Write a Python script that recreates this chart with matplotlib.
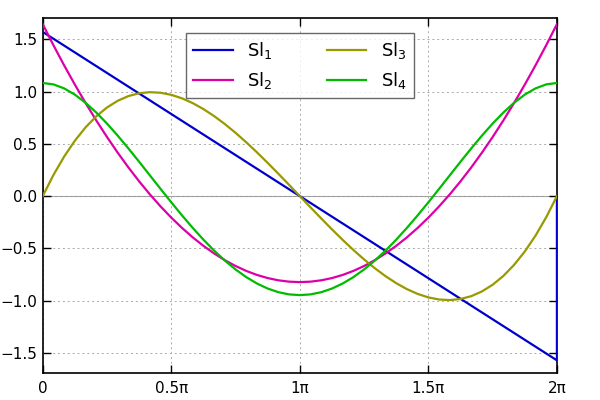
import numpy as np
import matplotlib
matplotlib.use("Agg")
import matplotlib.pyplot as plt

PI = np.pi
# sample positions in units of pi (k/24, k = 0..48)
t = [k / 24 for k in range(49)]

sl1_t = [0, 0, 2, 2]
sl1 = [0.0, 1.5708, -1.5708, 0.0]

sl2_half = [1.6449, 1.4436, 1.2508, 1.0666, 0.8910, 0.7239, 0.5654, 0.4155, 0.2742,
            0.1414, 0.0171, -0.0985, -0.2056, -0.3041, -0.3941, -0.4755, -0.5483,
            -0.6126, -0.6683, -0.7154, -0.7539, -0.7839, -0.8053, -0.8182, -0.8225]
sl3_half = [0.0, 0.2020, 0.3783, 0.5299, 0.6579, 0.7635, 0.8478, 0.9119, 0.9570,
            0.9841, 0.9943, 0.9889, 0.9689, 0.9355, 0.8897, 0.8327, 0.7656,
            0.6895, 0.6056, 0.5149, 0.4187, 0.3179, 0.2138, 0.1075, 0.0]
sl4_half = [1.0823, 1.0688, 1.0305, 0.9708, 0.8929, 0.7996, 0.6939, 0.5785, 0.4560,
            0.3287, 0.1990, 0.0691, -0.0592, -0.1840, -0.3035, -0.4164, -0.5211,
            -0.6164, -0.7013, -0.7747, -0.8359, -0.8841, -0.9190, -0.9400, -0.9469]

sl2 = sl2_half + sl2_half[-2::-1]
sl3 = sl3_half + [-v for v in sl3_half[-2::-1]]
sl4 = sl4_half + sl4_half[-2::-1]

xticks = [0, 0.5, 1, 1.5, 2]
xticklabels = ["0", "0.5π", "1π", "1.5π", "2π"]
yticks = [-1.5, -1.0, -0.5, 0.0, 0.5, 1.0, 1.5]

fig = plt.figure(figsize=(6, 4), dpi=100)
ax = fig.add_axes([0.0712, 0.068, 0.857, 0.886])

x = lambda arr: [v * PI for v in arr]
ax.axhline(0, color="#999999", lw=0.8, zorder=1)
ax.plot(x(sl1_t), sl1, color="#0000cc", lw=1.6, label="Sl$_1$", zorder=3)
ax.plot(x(t), sl2, color="#dd00aa", lw=1.6, label="Sl$_2$", zorder=3)
ax.plot(x(t), sl3, color="#999900", lw=1.6, label="Sl$_3$", zorder=3)
ax.plot(x(t), sl4, color="#00bb00", lw=1.6, label="Sl$_4$", zorder=3)

ax.set_xlim(0, 2 * PI)
ax.set_ylim(-1.69, 1.70)
ax.set_xticks([v * PI for v in xticks])
ax.set_xticklabels(xticklabels)
ax.set_yticks(yticks)
ax.set_yticklabels([f"{v:.1f}".replace("-", "\u2212") for v in yticks])
ax.tick_params(direction="in", length=6, width=1, labelsize=11, top=True, right=True)
ax.tick_params(axis="y", pad=4)
ax.tick_params(axis="x", pad=6)
ax.grid(True, color="#aaaaaa", linestyle=(0, (2, 3)), lw=0.7)
for s in ax.spines.values():
    s.set_linewidth(1.2)

leg = ax.legend(loc="upper center", ncol=2, fontsize=13, frameon=True, fancybox=False,
                edgecolor="#444444", columnspacing=3.0, handlelength=2.2,
                bbox_to_anchor=(0.5, 0.985), borderpad=0.4)
leg.get_frame().set_linewidth(1.0)

fig.savefig("out.png", dpi=100)
